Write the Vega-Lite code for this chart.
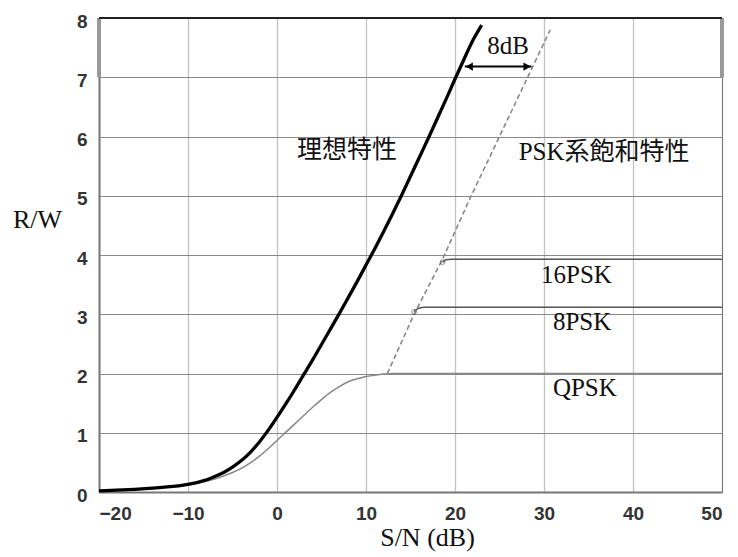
{
  "$schema": "https://vega.github.io/schema/vega-lite/v6.json",
  "width": 623,
  "height": 474,
  "autosize": {"type": "none"},
  "padding": {"left": 99, "top": 18, "right": 16, "bottom": 65},
  "background": "white",
  "config": {"view": {"stroke": "#666", "strokeWidth": 1}},
  "datasets": {
    "ideal": [
      {"x": -20, "y": 0.02}, {"x": -18, "y": 0.03}, {"x": -16, "y": 0.045}, {"x": -14, "y": 0.065},
      {"x": -12, "y": 0.09}, {"x": -10, "y": 0.13}, {"x": -9, "y": 0.16}, {"x": -8, "y": 0.2},
      {"x": -7, "y": 0.26}, {"x": -6, "y": 0.33}, {"x": -5, "y": 0.42}, {"x": -4, "y": 0.53},
      {"x": -3, "y": 0.67}, {"x": -2, "y": 0.84}, {"x": -1, "y": 1.04}, {"x": 0, "y": 1.26},
      {"x": 1, "y": 1.49}, {"x": 2, "y": 1.73}, {"x": 3, "y": 1.98}, {"x": 4, "y": 2.23},
      {"x": 5, "y": 2.49}, {"x": 6, "y": 2.75}, {"x": 7, "y": 3.01}, {"x": 8, "y": 3.28},
      {"x": 9, "y": 3.55}, {"x": 10, "y": 3.83}, {"x": 11, "y": 4.11}, {"x": 12, "y": 4.4},
      {"x": 13, "y": 4.7}, {"x": 14, "y": 5.01}, {"x": 15, "y": 5.33}, {"x": 16, "y": 5.65},
      {"x": 17, "y": 5.97}, {"x": 18, "y": 6.3}, {"x": 19, "y": 6.63}, {"x": 20, "y": 6.97},
      {"x": 21, "y": 7.3}, {"x": 22, "y": 7.62}, {"x": 23, "y": 7.88}
    ],
    "qpsk": [
      {"x": -20, "y": 0.02}, {"x": -18, "y": 0.028}, {"x": -16, "y": 0.04}, {"x": -14, "y": 0.06},
      {"x": -12, "y": 0.085}, {"x": -10, "y": 0.12}, {"x": -9, "y": 0.15}, {"x": -8, "y": 0.18},
      {"x": -7, "y": 0.22}, {"x": -6, "y": 0.27}, {"x": -5, "y": 0.33}, {"x": -4, "y": 0.4},
      {"x": -3, "y": 0.49}, {"x": -2, "y": 0.6}, {"x": -1, "y": 0.73}, {"x": 0, "y": 0.87},
      {"x": 1, "y": 1.01}, {"x": 2, "y": 1.15}, {"x": 3, "y": 1.29}, {"x": 4, "y": 1.43},
      {"x": 5, "y": 1.56}, {"x": 6, "y": 1.68}, {"x": 7, "y": 1.78}, {"x": 8, "y": 1.86},
      {"x": 9, "y": 1.91}, {"x": 10, "y": 1.95}, {"x": 11, "y": 1.97}, {"x": 12, "y": 1.99},
      {"x": 13, "y": 2.0}, {"x": 50, "y": 2.0}
    ],
    "psk8": [
      {"x": 15.4, "y": 3.04}, {"x": 15.9, "y": 3.1}, {"x": 16.6, "y": 3.12}, {"x": 50, "y": 3.12}
    ],
    "psk16": [
      {"x": 18.6, "y": 3.88}, {"x": 19.0, "y": 3.92}, {"x": 19.6, "y": 3.93}, {"x": 50, "y": 3.93}
    ],
    "sat": [
      {"x": 12.4, "y": 2.0}, {"x": 15.4, "y": 3.0}, {"x": 18.6, "y": 3.93}, {"x": 21.7, "y": 4.96}, {"x": 30.7, "y": 7.8}
    ],
    "knees": [
      {"x": 15.4, "y": 3.04}, {"x": 18.6, "y": 3.88}
    ],
    "band": [
      {"x": -20, "y": 7, "y2": 8}, {"x": 50, "y": 7, "y2": 8}
    ],
    "top": [
      {"x": -20, "x2": 50, "y": 8}
    ],
    "arrow": [
      {"x": 21.1, "x2": 28.6, "y": 7.18}
    ],
    "heads": [
      {"x": 21.6, "y": 7.18, "shape": "triangle-left"},
      {"x": 28.1, "y": 7.18, "shape": "triangle-right"}
    ],
    "cjk": [
      {"x": 7.87, "y": 5.77, "t": "理想特性"},
      {"x": 36.75, "y": 5.73, "t": "PSK系飽和特性"}
    ],
    "mods": [
      {"x": 29.67, "y": 3.52, "t": "16PSK"},
      {"x": 31.0, "y": 2.74, "t": "8PSK"},
      {"x": 31.0, "y": 1.62, "t": "QPSK"}
    ],
    "db": [
      {"x": 25.97, "y": 7.39, "t": "8dB"}
    ]
  },
  "encoding": {
    "x": {
      "field": "x", "type": "quantitative",
      "scale": {"domain": [-20, 50], "nice": false, "zero": false},
      "axis": {
        "title": "S/N (dB)", "values": [-20, -10, 0, 10, 20, 30, 40, 50],
        "grid": true, "gridColor": "#888", "gridDash": [1, 1], "gridWidth": 1.3,
        "domainColor": "#777", "domainWidth": 2, "ticks": false, "labelPadding": 12,
        "labelFont": "Liberation Sans", "labelFontSize": 19, "labelFontWeight": "bold", "labelColor": "#333",
        "titleFont": "Liberation Serif", "titleFontSize": 26, "titleFontWeight": "normal", "titleColor": "#111",
        "titleX": 328, "titleY": 53, "titleBaseline": "alphabetic", "titleAlign": "center"
      }
    },
    "y": {
      "field": "y", "type": "quantitative",
      "scale": {"domain": [0, 8], "nice": false},
      "axis": {
        "title": "R/W", "values": [0, 1, 2, 3, 4, 5, 6, 7, 8],
        "grid": true, "gridColor": "#888", "gridWidth": 1.2,
        "domainColor": "#777", "domainWidth": 2, "ticks": false, "labelPadding": 12, "labelOffset": 3,
        "labelFont": "Liberation Sans", "labelFontSize": 19, "labelFontWeight": "bold", "labelColor": "#333",
        "titleFont": "Liberation Serif", "titleFontSize": 26, "titleFontWeight": "normal", "titleColor": "#111",
        "titleAngle": 0, "titleX": -62, "titleY": 209, "titleBaseline": "alphabetic", "titleAlign": "center"
      }
    }
  },
  "layer": [
    {
      "data": {"name": "band"},
      "mark": {"type": "rule", "color": "#999", "strokeWidth": 4},
      "encoding": {"y2": {"field": "y2"}}
    },
    {
      "data": {"name": "top"},
      "mark": {"type": "rule", "color": "#222", "strokeWidth": 2},
      "encoding": {"x2": {"field": "x2"}}
    },
    {
      "data": {"name": "qpsk"},
      "mark": {"type": "line", "color": "#888", "strokeWidth": 1.5, "interpolate": "monotone"},
      "encoding": {}
    },
    {
      "data": {"name": "psk8"},
      "mark": {"type": "line", "color": "#555", "strokeWidth": 1.5, "interpolate": "monotone"},
      "encoding": {}
    },
    {
      "data": {"name": "psk16"},
      "mark": {"type": "line", "color": "#555", "strokeWidth": 1.5, "interpolate": "monotone"},
      "encoding": {}
    },
    {
      "data": {"name": "sat"},
      "mark": {"type": "line", "color": "#888", "strokeWidth": 1.6, "strokeDash": [5, 3]},
      "encoding": {}
    },
    {
      "data": {"name": "knees"},
      "mark": {"type": "point", "shape": "circle", "filled": false, "stroke": "#555", "strokeWidth": 1, "size": 22},
      "encoding": {}
    },
    {
      "data": {"name": "ideal"},
      "mark": {"type": "line", "color": "black", "strokeWidth": 3.3, "interpolate": "monotone"},
      "encoding": {}
    },
    {
      "data": {"name": "arrow"},
      "mark": {"type": "rule", "color": "black", "strokeWidth": 2},
      "encoding": {"x2": {"field": "x2"}}
    },
    {
      "data": {"name": "heads"},
      "mark": {"type": "point", "filled": true, "color": "black", "size": 70, "opacity": 1},
      "encoding": {
        "shape": {"field": "shape", "type": "nominal", "scale": null, "legend": null}
      }
    },
    {
      "data": {"name": "cjk"},
      "mark": {"type": "text", "font": "Liberation Serif, Noto Sans CJK JP", "fontSize": 25, "color": "#111", "align": "center", "baseline": "middle"},
      "encoding": {"text": {"field": "t"}}
    },
    {
      "data": {"name": "mods"},
      "mark": {"type": "text", "font": "Liberation Serif", "fontSize": 25, "color": "#111", "align": "left", "baseline": "alphabetic"},
      "encoding": {"text": {"field": "t"}}
    },
    {
      "data": {"name": "db"},
      "mark": {"type": "text", "font": "Liberation Serif", "fontSize": 25, "color": "#111", "align": "center", "baseline": "alphabetic"},
      "encoding": {"text": {"field": "t"}}
    }
  ]
}
